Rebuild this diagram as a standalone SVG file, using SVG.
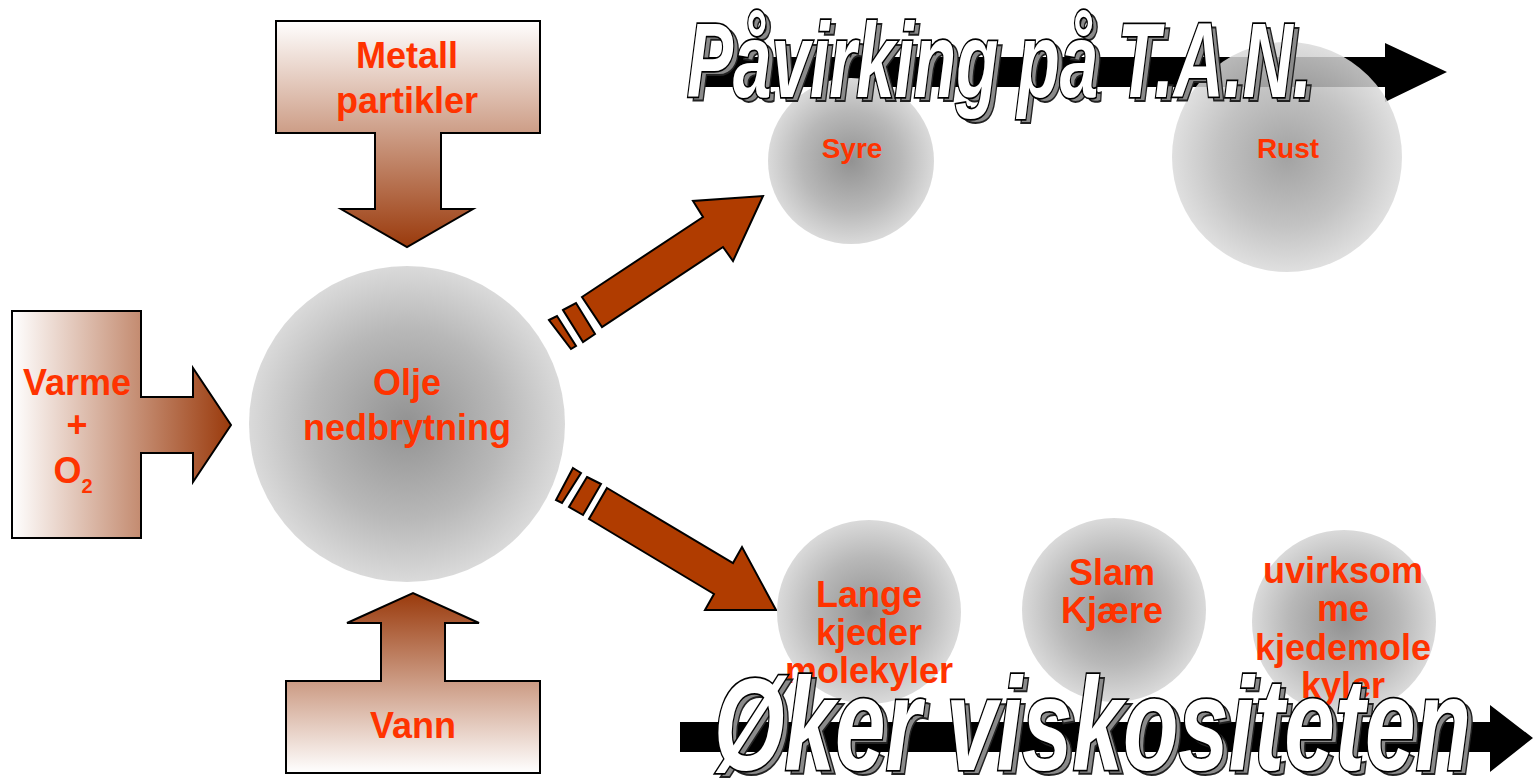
<svg xmlns="http://www.w3.org/2000/svg" width="1533" height="779" viewBox="0 0 1533 779">
<style>
.lbl{font-family:"Liberation Sans",Arial,sans-serif;font-weight:bold;fill:#ff3300;text-anchor:middle;font-size:36px}
.sm{font-size:28px}
.io{stroke:#000;stroke-width:2}
.fat{fill:#b03c00;stroke:#000;stroke-width:2;stroke-linejoin:miter}
.ball{fill:url(#ballg)}
.ttl{font-family:"Liberation Sans",Arial,sans-serif;font-weight:bold;font-style:italic}
.ttl-sh{fill:#8a8a8a;stroke:#222;stroke-width:2}
.ttl-fg{fill:#fff;stroke:#000;stroke-width:3.5;paint-order:stroke}
</style>
<defs>
<linearGradient id="gh" x1="12" y1="0" x2="231" y2="0" gradientUnits="userSpaceOnUse">
<stop offset="0" stop-color="#ffffff"/><stop offset="1" stop-color="#9a3a0c"/>
</linearGradient>
<linearGradient id="gdown" x1="0" y1="20" x2="0" y2="247" gradientUnits="userSpaceOnUse">
<stop offset="0" stop-color="#ffffff"/><stop offset="1" stop-color="#9a3a0c"/>
</linearGradient>
<linearGradient id="gup" x1="0" y1="773" x2="0" y2="593" gradientUnits="userSpaceOnUse">
<stop offset="0" stop-color="#ffffff"/><stop offset="1" stop-color="#9a3a0c"/>
</linearGradient>
<radialGradient id="ballg" cx="0.5" cy="0.5" r="0.5">
<stop offset="0" stop-color="#929292"/><stop offset="0.6" stop-color="#b8b8b8"/><stop offset="1" stop-color="#dadada"/>
</radialGradient>
</defs>

<g id="connectors">
<path id="bar-top" d="M700,57 H1385 V43 L1447,72 L1385,102 V87 H700 Z" fill="#000"/>
<path id="bar-bottom" d="M680,722 H1490 V705 L1533,738 L1490,772 V752 H680 Z" fill="#000"/>
<g id="arrow-up">
<polygon class="fat" points="582,297 703,217 693,201 763,196 733,261 723,247 602,327"/>
<polygon class="fat" points="563,310 576,303 595,334 583,342"/>
<polygon class="fat" points="549,320 557,316 576,346 571,349"/>
</g>
<g id="arrow-down">
<polygon class="fat" points="607,488 733,563 742,547 776,610 705,610 714,594 589,519"/>
<polygon class="fat" points="587,477 601,484 583,515 569,507"/>
<polygon class="fat" points="573,468 581,473 562,503 556,500"/>
</g>
</g>

<g id="node-varme">
<path class="io" fill="url(#gh)" d="M12,311 H141 V397 H193 V368 L231,425 L193,482 V453 H141 V538 H12 Z"/>
<text class="lbl" x="77" y="395">Varme</text>
<text class="lbl" x="77" y="437">+</text>
<text class="lbl" x="73" y="483">O<tspan font-size="20" dy="10">2</tspan></text>
</g>

<g id="node-metall">
<path class="io" fill="url(#gdown)" d="M276,21 H540 V133 H441 V209 H473 L407,247 L341,209 H375 V133 H276 Z"/>
<text class="lbl" x="407" y="68">Metall</text>
<text class="lbl" x="407" y="113">partikler</text>
</g>

<g id="node-vann">
<path class="io" fill="url(#gup)" d="M286,773 H540 V681 H445 V623 H479 L413,593 L347,623 H381 V681 H286 Z"/>
<text class="lbl" x="413" y="738">Vann</text>
</g>

<g id="node-olje">
<circle class="ball" cx="407" cy="424" r="158"/>
<text class="lbl" x="407" y="395">Olje</text>
<text class="lbl" x="407" y="440">nedbrytning</text>
</g>

<g id="node-syre">
<circle class="ball" cx="851" cy="161" r="83"/>
<text class="lbl sm" x="852" y="158">Syre</text>
</g>

<g id="node-rust">
<circle class="ball" cx="1287" cy="157" r="115" opacity="0.85"/>
<text class="lbl sm" x="1288" y="158">Rust</text>
</g>

<g id="node-lange">
<circle class="ball" cx="869" cy="612" r="92"/>
<text class="lbl" x="869" y="607">Lange</text>
<text class="lbl" x="869" y="645">kjeder</text>
<text class="lbl" x="869" y="683">molekyler</text>
</g>

<g id="node-slam">
<circle class="ball" cx="1114" cy="610" r="92"/>
<text class="lbl" x="1112" y="585">Slam</text>
<text class="lbl" x="1112" y="623">Kjære</text>
</g>

<g id="node-uvirksom">
<circle class="ball" cx="1344" cy="622" r="92"/>
<text class="lbl" x="1343" y="583">uvirksom</text>
<text class="lbl" x="1343" y="621">me</text>
<text class="lbl" x="1343" y="660">kjedemole</text>
<text class="lbl" x="1343" y="698">kyler</text>
</g>

<g id="title-top" class="ttl">
<text class="ttl-sh" x="692" y="101" font-size="106" textLength="625" lengthAdjust="spacingAndGlyphs">Påvirking på T.A.N.</text>
<text class="ttl-fg" x="687" y="97" font-size="106" textLength="625" lengthAdjust="spacingAndGlyphs">Påvirking på T.A.N.</text>
</g>

<g id="title-bottom" class="ttl">
<text class="ttl-sh" x="719" y="774" font-size="132" textLength="757" lengthAdjust="spacingAndGlyphs">Øker viskositeten</text>
<text class="ttl-fg" x="714" y="770" font-size="132" textLength="757" lengthAdjust="spacingAndGlyphs">Øker viskositeten</text>
</g>
</svg>
